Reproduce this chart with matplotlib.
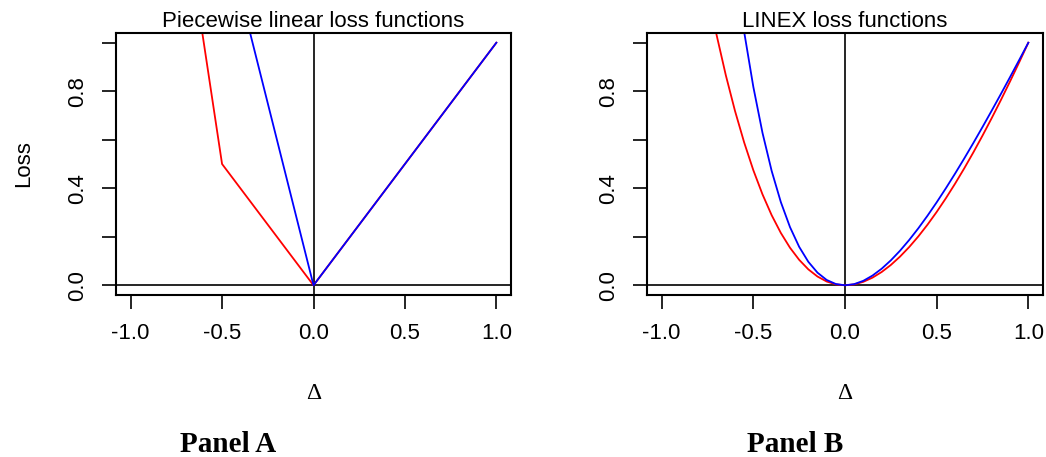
import matplotlib
matplotlib.use("Agg")
import matplotlib.pyplot as plt

plt.rcParams['font.family'] = ['Liberation Sans', 'DejaVu Sans']
plt.rcParams['axes.unicode_minus'] = False

# Panel A: piecewise linear losses (knots)
pw_red_x = [-1.0, -0.5, 0.0, 1.0]
pw_red_y = [3.0, 0.5, 0.0, 1.0]
pw_blue_x = [-1.0, 0.0, 1.0]
pw_blue_y = [3.0, 0.0, 1.0]

# Panel B: LINEX losses, sampled every 0.05
lx_red_x = [-0.75, -0.70, -0.65, -0.60, -0.55, -0.50, -0.45, -0.40, -0.35, -0.30,
            -0.25, -0.20, -0.15, -0.10, -0.05, 0.00, 0.05, 0.10, 0.15, 0.20,
            0.25, 0.30, 0.35, 0.40, 0.45, 0.50, 0.55, 0.60, 0.65, 0.70,
            0.75, 0.80, 0.85, 0.90, 0.95, 1.00]
lx_red_y = [1.2147, 1.0305, 0.8656, 0.7188, 0.5888, 0.4744, 0.3748, 0.2889, 0.2159, 0.1548,
            0.1050, 0.0657, 0.0361, 0.0156, 0.0038, 0.0, 0.0037, 0.0143, 0.0315, 0.0548,
            0.0838, 0.1182, 0.1575, 0.2015, 0.2499, 0.3023, 0.3586, 0.4184, 0.4815, 0.5477,
            0.6169, 0.6888, 0.7632, 0.8400, 0.9190, 1.0]
lx_blue_x = [-0.60, -0.55, -0.50, -0.45, -0.40, -0.35, -0.30, -0.25, -0.20, -0.15,
             -0.10, -0.05, 0.00, 0.05, 0.10, 0.15, 0.20, 0.25, 0.30, 0.35,
             0.40, 0.45, 0.50, 0.55, 0.60, 0.65, 0.70, 0.75, 0.80, 0.85,
             0.90, 0.95, 1.00]
lx_blue_y = [1.3133, 1.0445, 0.8179, 0.6283, 0.4714, 0.3430, 0.2398, 0.1586, 0.0968, 0.0520,
             0.0220, 0.0053, 0.0, 0.0048, 0.0185, 0.0401, 0.0684, 0.1028, 0.1424, 0.1867,
             0.2350, 0.2869, 0.3420, 0.3998, 0.4600, 0.5223, 0.5865, 0.6524, 0.7197, 0.7882,
             0.8579, 0.9285, 1.0]

x_ticks = [-1.0, -0.5, 0.0, 0.5, 1.0]
x_tick_labels = ['-1.0', '-0.5', '0.0', '0.5', '1.0']
y_ticks = [0.0, 0.2, 0.4, 0.6, 0.8, 1.0]
y_tick_labels = ['0.0', '', '0.4', '', '0.8', '']

titles = ['Piecewise linear loss functions', 'LINEX loss functions']
panel_names = ['Panel A', 'Panel B']

W, H = 1046, 457
fig = plt.figure(figsize=(W / 100, H / 100), dpi=100)

ax_a = fig.add_axes([116 / W, 1 - 295 / H, 395 / W, 262 / H])
ax_b = fig.add_axes([647 / W, 1 - 295 / H, 396 / W, 262 / H])

ax_a.plot(pw_red_x, pw_red_y, color='red', lw=1.3)
ax_a.plot(pw_blue_x, pw_blue_y, color='blue', lw=1.3)
ax_b.plot(lx_red_x, lx_red_y, color='red', lw=1.3)
ax_b.plot(lx_blue_x, lx_blue_y, color='blue', lw=1.3)

for ax, title in zip([ax_a, ax_b], titles):
    ax.axvline(0, color='black', lw=1.2, zorder=1)
    ax.axhline(0, color='black', lw=1.2, zorder=1)
    ax.set_xlim(-1.08, 1.08)
    ax.set_ylim(-0.04, 1.04)
    ax.set_xticks(x_ticks)
    ax.set_xticklabels(x_tick_labels)
    ax.set_yticks(y_ticks)
    ax.set_yticklabels(y_tick_labels, rotation=90, va='center')
    ax.tick_params(direction='out', length=10, width=1.2, labelsize=16, pad=10)
    for s in ax.spines.values():
        s.set_linewidth(1.5)
    bb = ax.get_position()
    fig.text((bb.x0 + bb.x1) / 2, 1 - 27 / H, title, ha='center', va='baseline', fontsize=16)
    fig.text((bb.x0 + bb.x1) / 2, 1 - 399 / H, '\u0394', ha='center', va='baseline',
             fontsize=17, family='Liberation Serif')

ax_a.set_ylabel('Loss', fontsize=16, labelpad=24)

fig.text(228 / W, 1 - 452 / H, panel_names[0], ha='center', va='baseline',
         fontsize=21, fontweight='bold', family='Liberation Serif')
fig.text(795 / W, 1 - 452 / H, panel_names[1], ha='center', va='baseline',
         fontsize=21, fontweight='bold', family='Liberation Serif')

fig.savefig('out.png', dpi=100)
